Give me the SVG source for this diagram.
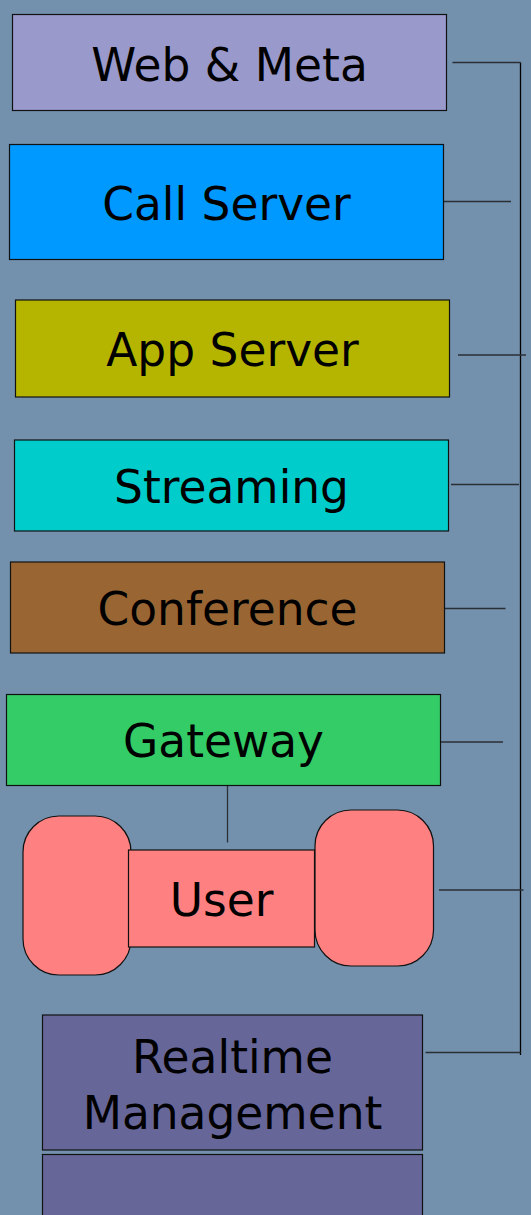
<svg xmlns="http://www.w3.org/2000/svg" width="531" height="1215" viewBox="0 0 531 1215">
  <style>
    .box { stroke: #111; stroke-width: 1.2; }
    .lbl { font-family: "DejaVu Sans", "Liberation Sans", sans-serif; font-size: 45.5px; fill: #000; text-anchor: middle; }
    .wire { stroke: #2a2f36; stroke-width: 1.3; fill: none; }
    .bus { stroke: #000; stroke-width: 1.3; fill: none; }
  </style>
  <rect x="0" y="0" width="531" height="1215" fill="#7391ad"/>

  <g id="connectors">
    <path class="bus" d="M520.5 62.5 V1055"/>
    <line class="wire" x1="452.5" y1="62.5" x2="520.5" y2="62.5"/>
    <line class="wire" x1="443" y1="201.5" x2="511" y2="201.5"/>
    <line class="wire" x1="458" y1="355" x2="526" y2="355"/>
    <line class="wire" x1="451" y1="484.5" x2="519" y2="484.5"/>
    <line class="wire" x1="438" y1="608.5" x2="505.5" y2="608.5"/>
    <line class="wire" x1="432" y1="742" x2="503" y2="742"/>
    <line class="wire" x1="227.5" y1="786" x2="227.5" y2="842.5"/>
    <line class="wire" x1="439" y1="890" x2="523.5" y2="890"/>
    <line class="wire" x1="425.5" y1="1052.5" x2="520.5" y2="1052.5"/>
  </g>

  <g id="web-meta">
    <rect class="box" x="12.5" y="14.5" width="434" height="96" fill="#9999cc"/>
    <text class="lbl" x="229.5" y="81">Web &amp; Meta</text>
  </g>

  <g id="call-server">
    <rect class="box" x="9.5" y="144.5" width="434" height="115" fill="#0099ff"/>
    <text class="lbl" x="226.5" y="220">Call Server</text>
  </g>

  <g id="app-server">
    <rect class="box" x="15.5" y="300" width="434" height="97" fill="#b5b500"/>
    <text class="lbl" x="232.5" y="366">App Server</text>
  </g>

  <g id="streaming">
    <rect class="box" x="14.5" y="440" width="434" height="91" fill="#00cccc"/>
    <text class="lbl" x="231.5" y="503">Streaming</text>
  </g>

  <g id="conference">
    <rect class="box" x="10.5" y="562" width="434" height="91" fill="#996633"/>
    <text class="lbl" x="227.5" y="625">Conference</text>
  </g>

  <g id="gateway">
    <rect class="box" x="6.5" y="694.5" width="434" height="91" fill="#33cc66"/>
    <text class="lbl" x="223.5" y="757">Gateway</text>
  </g>

  <g id="user">
    <rect class="box" x="23" y="816" width="108" height="159" rx="36" ry="36" fill="#ff8080"/>
    <rect class="box" x="315" y="810" width="118.5" height="156" rx="36" ry="36" fill="#ff8080"/>
    <rect class="box" x="128.5" y="850" width="186" height="97" fill="#ff8080"/>
    <text class="lbl" x="221.5" y="916">User</text>
  </g>

  <g id="realtime-management">
    <rect class="box" x="42.5" y="1015" width="380" height="135" fill="#666699"/>
    <text class="lbl" x="232.5" y="1073">Realtime</text>
    <text class="lbl" x="232.5" y="1129">Management</text>
  </g>

  <g id="realtime-lower">
    <rect class="box" x="42.5" y="1154.5" width="380" height="70" fill="#666699"/>
  </g>
</svg>
